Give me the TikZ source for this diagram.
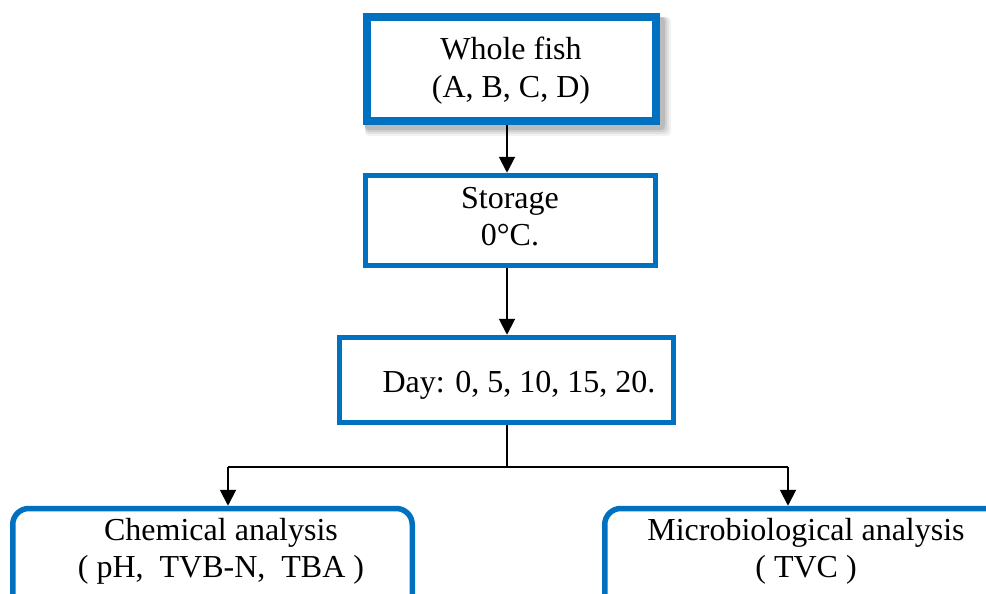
\documentclass[tikz,border=0pt]{standalone}
\usepackage{fontspec}
\setmainfont{Liberation Serif}
\usetikzlibrary{arrows.meta,backgrounds}
\definecolor{boxblue}{HTML}{0070C0}
\begin{document}
\begin{tikzpicture}[x=1pt,y=-1pt,
  txt/.style={font=\fontsize{32}{37}\selectfont, align=center, inner sep=0pt, anchor=base},
  box/.style={draw=boxblue, line width=5.5pt, fill=white, inner sep=0pt},
  topbox/.style={box, line width=8pt},
  rbox/.style={box, rounded corners=16pt},
  arr/.style={line width=2pt, -{Triangle[length=16pt,width=16pt]}},
  conn/.style={line width=1.5pt}
]
\useasboundingbox (0,0) rectangle (986,594);
\clip (0,0) rectangle (986,594);

\node[topbox, minimum width=289pt, minimum height=104pt] (fish) at (511.5,69) {};
\node[box, minimum width=290pt, minimum height=90pt] (store) at (510.5,220.5) {};
\node[box, minimum width=334pt, minimum height=85pt] (day) at (506.5,380) {};
\node[rbox, minimum width=399.5pt, minimum height=120pt, anchor=north] (chem) at (212.5,505.75) {};
\node[rbox, minimum width=406.5pt, minimum height=120pt, anchor=north] (micro) at (808,505.75) {};

\begin{scope}[on background layer]
  \fill[white] (0,0) rectangle (986,594);
  \foreach \s/\o in {11/0.05,9/0.06,7/0.08,5/0.10}{
    \fill[black, opacity=\o, rounded corners=4pt]
      ([xshift=2pt, yshift=-4pt]fish.north west) rectangle ([xshift=\s pt, yshift=-\s pt]fish.south east);
  }
\end{scope}

\node[txt] (fisht) at (511,97) {Whole fish\\(A, B, C, D)};
\node[txt] (storet) at (510,245) {Storage\\0°C.};
\node[txt] (dayt) at (519,392) {Day: 0, 5, 10, 15, 20.};
\node[txt] (chemt) at (221,577) {Chemical analysis\\( pH,\ \ TVB-N,\ \ TBA )};
\node[txt] (microt) at (806,577) {Microbiological analysis\\( TVC )};

\coordinate (split) at (507,467);
\coordinate (chemin) at (228,505.75);
\coordinate (microin) at (788,505.75);

\draw[arr] (fish.south -| split) -- (store.north -| split);
\draw[arr] (store.south -| split) -- (day.north -| split);
\draw[conn] (day.south -| split) -- (split);
\draw[conn] (split) -- (split -| chemin);
\draw[conn] (split) -- (split -| microin);
\draw[arr] (split -| chemin) -- (chemin);
\draw[arr] (split -| microin) -- (microin);
\end{tikzpicture}
\end{document}
